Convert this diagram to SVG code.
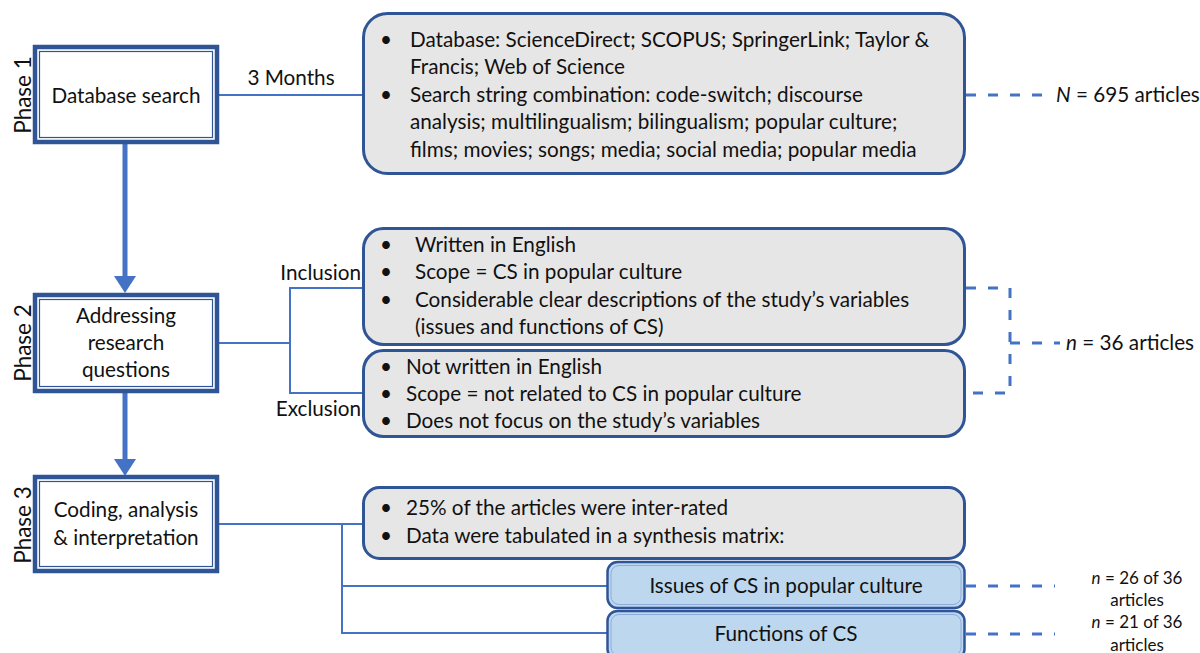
<svg xmlns="http://www.w3.org/2000/svg" width="1200" height="653" viewBox="0 0 1200 653">
<defs>
<style>
text{font-family:"Lato","Liberation Sans",sans-serif;fill:#111}
.t{font-size:20.7px}
.ph{font-size:22.5px}
.c{text-anchor:middle}
.pbo{fill:#fff;stroke:#2f5597;stroke-width:4.5}
.pbi{fill:none;stroke:#2f5597;stroke-width:1.2}
.gb{fill:#e7e6e6;stroke:#2f5597;stroke-width:3}
.bb{fill:#bdd7ee;stroke:#2f5597;stroke-width:2.5}
.bbi{fill:none;stroke:#8faadc;stroke-width:1}
.ln{fill:none;stroke:#4472c4;stroke-width:2}
.ds{fill:none;stroke:#4472c4;stroke-width:3;stroke-dasharray:10 12}
.ar{fill:none;stroke:#4472c4;stroke-width:5}
.sm{font-size:17px}
</style>
</defs>
<rect width="1200" height="653" fill="#fff"/>

<g id="connectors">
  <line class="ar" x1="125" y1="144" x2="125" y2="278"/>
  <polygon points="114,276 136,276 125,293" fill="#4472c4"/>
  <line class="ar" x1="125" y1="393" x2="125" y2="461"/>
  <polygon points="114,459 136,459 125,476" fill="#4472c4"/>
  <line class="ln" x1="219" y1="95" x2="363" y2="95"/>
  <path class="ln" d="M219,343 H290 M363,288 H290 V393 H363"/>
  <path class="ln" d="M219,524 H363 M342,524 V633 H608 M342,586 H608"/>
  <line class="ds" x1="966" y1="95" x2="1045" y2="95"/>
  <path class="ds" d="M966,288 H1010 V393 H966"/>
  <line class="ds" x1="1010" y1="343" x2="1060" y2="343"/>
  <line class="ds" x1="966" y1="586" x2="1055" y2="586"/>
  <line class="ds" x1="966" y1="634" x2="1055" y2="634"/>
</g>

<g id="phase1">
  <rect class="pbo" x="35" y="47" width="182" height="95"/>
  <rect class="pbi" x="39.5" y="51.5" width="173" height="86"/>
  <text class="t c" x="126" y="103">Database search</text>
  <text class="ph c" transform="translate(31,95) rotate(-90)">Phase 1</text>
</g>
<text id="lbl-months" class="t c" x="291" y="85">3 Months</text>

<g id="box-database">
  <rect class="gb" x="363.5" y="13.5" width="601" height="160" rx="24"/>
  <text class="t" x="380" y="47">•</text><text class="t" x="410" y="47">Database: ScienceDirect; SCOPUS; SpringerLink; Taylor &amp;</text>
  <text class="t" x="410" y="74">Francis; Web of Science</text>
  <text class="t" x="380" y="102">•</text><text class="t" x="410" y="102">Search string combination: code-switch; discourse</text>
  <text class="t" x="410" y="129">analysis; multilingualism; bilingualism; popular culture;</text>
  <text class="t" x="410" y="157">films; movies; songs;  media; social media; popular media</text>
</g>
<text id="n695" class="t" x="1056" y="102"><tspan font-style="italic">N</tspan> = 695 articles</text>

<g id="phase2">
  <rect class="pbo" x="35" y="295" width="182" height="96"/>
  <rect class="pbi" x="39.5" y="299.5" width="173" height="87"/>
  <text class="t c" x="126" y="323">Addressing</text>
  <text class="t c" x="126" y="350">research</text>
  <text class="t c" x="126" y="377">questions</text>
  <text class="ph c" transform="translate(31,343) rotate(-90)">Phase 2</text>
</g>
<text id="lbl-inclusion" class="t" x="361" y="280" text-anchor="end">Inclusion</text>
<text id="lbl-exclusion" class="t" x="361" y="416" text-anchor="end">Exclusion</text>

<g id="box-inclusion">
  <rect class="gb" x="363.5" y="228.5" width="601" height="116" rx="20"/>
  <text class="t" x="380" y="252">•</text><text class="t" x="415" y="252">Written in English</text>
  <text class="t" x="380" y="279">•</text><text class="t" x="415" y="279">Scope = CS in popular culture</text>
  <text class="t" x="380" y="307">•</text><text class="t" x="415" y="307">Considerable clear descriptions of the study’s variables</text>
  <text class="t" x="415" y="334">(issues and functions of CS)</text>
</g>
<g id="box-exclusion">
  <rect class="gb" x="363.5" y="350.5" width="601" height="86" rx="20"/>
  <text class="t" x="380" y="374">•</text><text class="t" x="406" y="374">Not written in English</text>
  <text class="t" x="380" y="401">•</text><text class="t" x="406" y="401">Scope = not related to CS in popular culture</text>
  <text class="t" x="380" y="428">•</text><text class="t" x="406" y="428">Does not focus on the study’s variables</text>
</g>
<text id="n36" class="t" x="1066" y="350"><tspan font-style="italic">n</tspan> = 36 articles</text>

<g id="phase3">
  <rect class="pbo" x="35" y="477" width="182" height="94"/>
  <rect class="pbi" x="39.5" y="481.5" width="173" height="85"/>
  <text class="t c" x="126" y="517">Coding, analysis</text>
  <text class="t c" x="126" y="545">&amp; interpretation</text>
  <text class="ph c" transform="translate(31,525) rotate(-90)">Phase 3</text>
</g>

<g id="box-coding">
  <rect class="gb" x="363.5" y="487.5" width="601" height="71" rx="16"/>
  <text class="t" x="380" y="515">•</text><text class="t" x="406" y="515">25% of the articles were inter-rated</text>
  <text class="t" x="380" y="543">•</text><text class="t" x="406" y="543">Data were tabulated in a synthesis matrix:</text>
</g>
<g id="box-issues">
  <rect class="bb" x="607.5" y="562" width="357" height="46" rx="10"/>
  <rect class="bbi" x="611" y="565.5" width="350" height="39" rx="8"/>
  <text class="t c" x="786" y="593">Issues of CS in popular culture</text>
</g>
<g id="box-functions">
  <rect class="bb" x="607.5" y="611" width="357" height="48" rx="10"/>
  <rect class="bbi" x="611" y="614.5" width="350" height="41" rx="8"/>
  <text class="t c" x="786" y="641">Functions of CS</text>
</g>
<g id="n26">
  <text class="sm c" x="1137" y="584"><tspan font-style="italic">n</tspan> = 26 of 36</text>
  <text class="sm c" x="1137" y="606">articles</text>
</g>
<g id="n21">
  <text class="sm c" x="1137" y="628"><tspan font-style="italic">n</tspan> = 21 of 36</text>
  <text class="sm c" x="1137" y="651">articles</text>
</g>
</svg>
